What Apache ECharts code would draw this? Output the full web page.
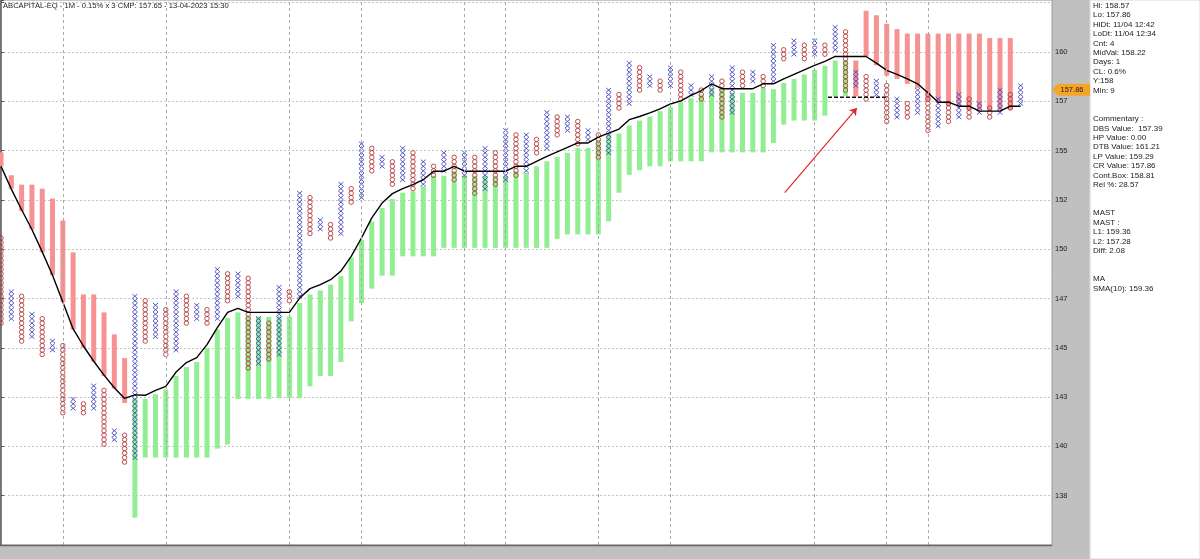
<!DOCTYPE html>
<html><head><meta charset="utf-8">
<script src="https://cdn.jsdelivr.net/npm/echarts@6/dist/echarts.min.js"></script>
<style>html,body{margin:0;padding:0;background:#fff}#c{width:1200px;height:559px}</style>
</head><body><div id="c"></div>
<script>
// ---- DATA (y values are in box units of 0.15%; level 0 = 138 gridline) ----
const titleText = 'ABCAPITAL-EQ - 1M - 0.15% x 3 CMP: 157.65 - 13-04-2023 15:30';
const colType = 'OXOXOXOXOXOXOXOXOXOXOXOXOXOXOXOXOXOXOXOXOXOXOXOXOXOXOXOXOXOXOXOXOXOXOXOXOXOXOXOXOXOXOXOXOXOXOXOXOXOX';
const colLow = [38,39,34,35,31,32,18,19,18,19, 11,12,7,8,34,35,31,32,38,39,
  38,39,43,44,28,29,30,31,43,44, 58,59,57,58,65,66,72,73,69,70,
  68,69,71,72,70,71,67,68,69,70, 71,72,76,77,80,81,78,79,75,76,
  86,87,90,91,90,91,88,89,88,89, 84,85,91,92,91,92,97,98,97,98,
  98,99,90,91,88,89,83,84,84,85, 81,82,83,84,84,85,84,85,86,87];
const colHigh = [57,45,44,40,39,34,33,21,20,24, 23,14,13,44,43,42,41,45,44,42,
  41,50,49,49,48,39,38,46,45,67, 66,61,60,69,68,78,77,75,74,77,
  76,74,73,76,75,76,75,77,76,81, 80,80,79,85,84,84,83,81,80,90,
  89,96,95,93,92,95,94,91,90,93, 92,95,94,94,93,100,99,101,100,101,
  100,104,103,94,93,92,91,88,87,90, 89,88,87,89,88,87,86,90,89,91];
const barKind = 'RRRRRRRRRRRRRGGGGGGGGGGGGGGGGGGGGGGGGGGGGGGGGGGGGGGGGGGGGGGGGGGGGGGGGGGGGGGGGGGGGGGRRRRRRRRRRRRRRRR';
const barLow = [73.5,68.5,63.5,59.4,54.3,49.2,43.2,37.1,33.0,29.9, 26.7,23.9,20.7,-4.9,8.5,8.5,8.5,8.5,8.5,8.5,
  8.5,10.5,11.4,21.6,21.6,21.6,21.6,21.8,21.8,21.8, 24.4,26.7,26.7,29.8,38.9,43.0,46.2,49.1,49.1,53.4,
  53.4,53.4,53.4,55.3,55.3,55.3,55.3,55.3,55.3,55.3, 55.3,55.3,55.3,55.3,57.3,58.3,58.3,58.3,58.3,61.2,
  67.6,71.6,72.6,73.5,73.5,74.6,74.6,74.6,74.6,76.6, 76.6,76.6,76.6,76.6,76.6,78.7,82.8,83.7,83.7,83.7,
  84.8,89.1,89.1,89.1,98.0,96.0,93.7,93.0,91.9,91.0, 88.0,88.0,87.0,87.0,86.1,86.1,86.1,86.1,86.1,86.1];
const barHigh = [76.6,71.5,69.4,69.4,68.5,66.3,61.4,54.3,44.9,44.9, 40.9,36.0,30.7,21.8,21.6,22.6,23.7,26.7,28.7,29.8,
  33.0,37.1,39.7,40.9,40.0,40.0,39.9,40.0,40.0,43.0, 44.9,45.8,47.1,49.0,53.1,57.1,61.2,64.2,66.2,67.6,
  67.9,69.0,71.4,71.4,72.4,71.4,71.4,71.4,71.4,71.4, 72.4,72.0,73.5,74.6,75.6,76.5,77.6,77.6,79.4,80.6,
  80.8,82.6,83.7,84.6,85.8,86.7,87.8,88.7,89.5,91.0, 90.8,89.9,89.9,89.9,91.0,90.7,92.1,93.0,94.0,95.0,
  95.9,97.1,97.1,97.1,108.2,107.2,105.3,104.1,103.1,103.1, 103.1,103.1,103.1,103.1,103.1,103.1,102.1,102.1,102.1,102.1];
const maLine = [73.5,68.4,63.8,59.4,54.4,49.2,43.2,37.2,33.4,30.0, 26.9,24.1,21.7,22.5,22.4,23.5,24.4,27.6,29.7,30.8,
  33.7,37.5,40.9,41.8,40.9,40.9,40.9,40.9,40.9,44.1, 46.2,47.1,48.2,50.1,53.4,57.5,62.0,65.3,67.4,68.5,
  69.4,70.5,72.4,72.4,73.5,72.4,72.4,72.4,72.4,72.4, 73.5,73.5,74.6,75.7,76.7,77.7,78.7,78.7,80.0,80.9,
  81.8,83.9,84.6,85.4,86.3,87.4,88.1,89.3,90.4,91.9, 90.8,90.8,90.8,90.8,91.9,91.9,93.0,94.0,95.0,96.0,
  96.9,98.0,98.0,98.0,98.0,96.5,94.9,94.0,93.0,91.9, 89.9,87.8,87.8,86.9,86.9,85.8,85.8,85.8,86.9,86.9];
const yTickLabels = ['138','140','143','145','147','150','152','155','157','160'];
const dateCols = [6,16,28,35,45,49,58,65,79,86,90];
const dashLevel = [[80.3,88.9],[85.9,88.9]];
const arrowPts = [[76.1,67.6],[83.1,86.5]];
const cmpText = '157.86';
const cmpTagLevel = 90.6;
const infoLines = ['Hi: 158.57','Lo: 157.86','HiDt: 11/04 12:42','LoDt: 11/04 12:34','Cnt: 4','MidVal: 158.22','Days: 1','CL: 0.6%','Y:158','Min: 9','','',
  'Commentary :','DBS Value:  157.39','HP Value: 0.00','DTB Value: 161.21','LP Value: 159.29','CR Value: 157.86','Cont.Box: 158.81','Rel %: 28.57','','',
  'MAST','MAST :','L1: 159.36','L2: 157.28','Diff: 2.08','','','MA','SMA(10): 159.36'];

// ---- build ----
const xoData = colType.split('').map((t,i)=>[i, colLow[i], colHigh[i], t==='X'?1:0]);
const barData = barKind.split('').map((k,i)=>[i, barLow[i], barHigh[i], k==='R'?1:0]);
const lineData = maLine.map((v,i)=>[i,v]);

const chart = echarts.init(document.getElementById('c'), null, {renderer:'canvas'});
const FONT = '"Liberation Sans", Arial, sans-serif';

function renderBar(params, api){
  const i = api.value(0);
  const t = api.coord([i, api.value(2)]);
  const b = api.coord([i, api.value(1)]);
  const w = 5;
  return {type:'rect', shape:{x:t[0]-w/2, y:t[1], width:w, height:b[1]-t[1]},
    style:{fill: api.value(3) ? '#f79292' : '#92ee92'}};
}
function renderXO(params, api){
  const i = api.value(0), lo = api.value(1), hi = api.value(2), isX = api.value(3);
  const h = api.size([0,1])[1];
  const ch = [];
  for (let b = lo; b <= hi; b++){
    const c = api.coord([i, b + 0.5]);
    if (isX){
      const w = 2.5, hh = h/2 - 0.1;
      ch.push({type:'line', shape:{x1:c[0]-w,y1:c[1]-hh,x2:c[0]+w,y2:c[1]+hh}, style:{stroke:'#4646c0', lineWidth:0.9, blend:'multiply'}});
      ch.push({type:'line', shape:{x1:c[0]-w,y1:c[1]+hh,x2:c[0]+w,y2:c[1]-hh}, style:{stroke:'#4646c0', lineWidth:0.9, blend:'multiply'}});
    } else {
      ch.push({type:'circle', shape:{cx:c[0], cy:c[1], r:h/2}, style:{fill:null, stroke:'#b43c3c', lineWidth:0.9, blend:'multiply'}});
    }
  }
  return {type:'group', children:ch};
}

const option = {
  backgroundColor:'#fff',
  animation:false,
  grid:{left:0, right:148, top:0, bottom:14, show:true, borderColor:'#9a9a9a', borderWidth:1},
  xAxis:{type:'value', min:-0.1, max:102.05, show:false},
  yAxis:{type:'value', position:'right', min:-11, max:110.6, interval:11,
    axisLine:{show:true, lineStyle:{color:'#555', width:1.5}},
    axisTick:{show:true, length:3, lineStyle:{color:'#555'}},
    axisLabel:{margin:3, fontSize:7.5, color:'#222', fontFamily:FONT,
      formatter:(v)=>{const k=Math.round(v/11); if(Math.abs(v-k*11)>0.01||k<0||k>=yTickLabels.length) return ''; return yTickLabels[k];}},
    splitLine:{show:true, lineStyle:{color:'#c4c4c4', type:[2,2], width:1}}},
  series:[
    {type:'line', data:[], silent:true, z:1,
      markLine:{silent:true, symbol:['none','none'], label:{show:false},
        lineStyle:{color:'#a8a8a8', type:[3,3], width:1},
        data: dateCols.map(c=>({xAxis:c}))}},
    {type:'custom', renderItem:renderBar, data:barData, clip:true, z:2, encode:{x:0,y:[1,2]}, silent:true},
    {type:'custom', renderItem:renderXO, data:xoData, clip:true, z:3, encode:{x:0,y:[1,2]}, silent:true},
    {type:'line', data:lineData, showSymbol:false, symbol:'none', z:4, lineStyle:{color:'#000', width:1.4}, silent:true},
    {type:'line', data:dashLevel, showSymbol:false, symbol:'none', z:4, lineStyle:{color:'#111', width:1.5, type:[4,2]}, silent:true},
    {type:'lines', coordinateSystem:'cartesian2d', z:5, silent:true,
      symbol:['none','arrow'], symbolSize:7,
      lineStyle:{color:'#e3262b', width:1.2, opacity:1},
      data:[{coords:arrowPts}]}
  ]
};
chart.setOption(option);

const ty = chart.convertToPixel({yAxisIndex:0}, cmpTagLevel);
chart.setOption({graphic:[
  {type:'rect', z:-10, shape:{x:1052, y:0, width:38, height:559}, style:{fill:'#c0c0c0'}},
  {type:'rect', z:-10, shape:{x:0, y:546, width:1090, height:13}, style:{fill:'#c0c0c0'}},
  {type:'line', z:10, shape:{x1:0, y1:545.5, x2:1052, y2:545.5}, style:{stroke:'#666', lineWidth:1.5}},
  {type:'rect', z:-10, shape:{x:1090, y:0, width:110, height:559}, style:{fill:'#fff', stroke:'#d8d8d8', lineWidth:1}},
  {type:'text', z:10, x:3, y:2, style:{text:titleText, font:'7.6px '+FONT, fill:'#222'}},
  {type:'text', z:10, x:1093, y:1, style:{text:infoLines.join('\n'), font:'8px '+FONT, lineHeight:9.43, fill:'#222'}},
  {type:'polygon', z:10, shape:{points:[[1052,ty],[1058,ty-6],[1090,ty-6],[1090,ty+6],[1058,ty+6]]}, style:{fill:'#f5a425'}},
  {type:'text', z:11, x:1072, y:ty, style:{text:cmpText, font:'7.5px '+FONT, fill:'#222', align:'center', verticalAlign:'middle'}}
]});
</script></body></html>
